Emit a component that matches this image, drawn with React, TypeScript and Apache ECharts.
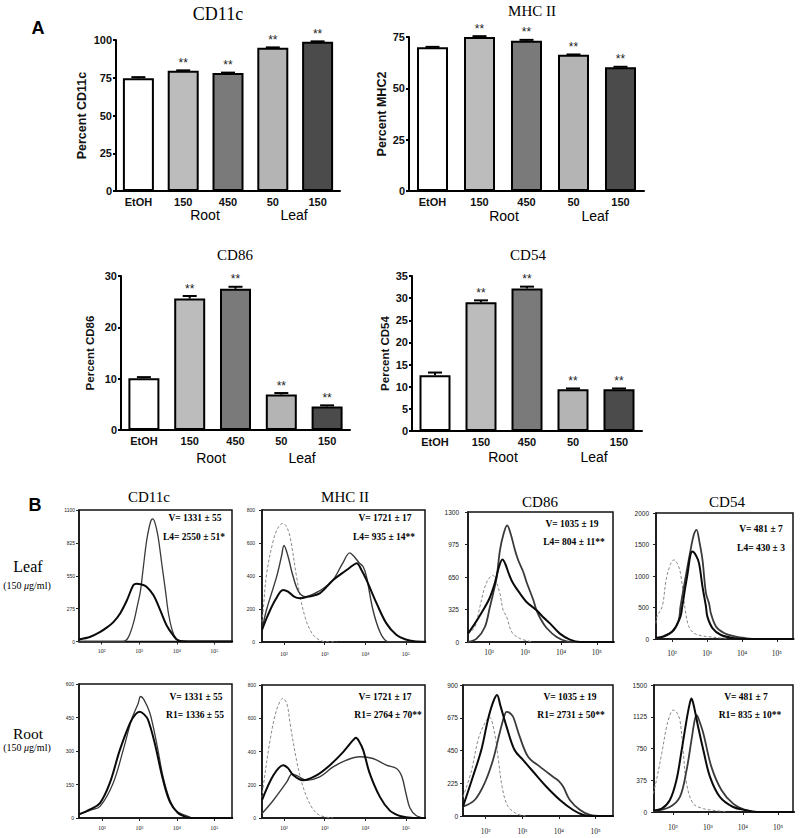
import React, { useEffect, useRef } from 'react';
import * as echarts from 'echarts';

// ---------- Panel A data ----------
const barCategories = ['EtOH', '150', '450', '50', '150'];
const barFills = ['#ffffff', '#bcbcbc', '#7a7a7a', '#b4b4b4', '#4b4b4b'];
const sigMarks = ['', '**', '**', '**', '**'];
const cd11cPercent = [74.6, 79.6, 78.1, 94.8, 98.8];
const cd11cErr = [0.8, 0.3, 0.3, 0.3, 0.3];
const mhc2Percent = [70.0, 75.0, 73.2, 66.3, 60.3];
const mhc2Err = [0.2, 0.4, 0.4, 0.2, 0.2];
const cd86Percent = [10.1, 25.6, 27.5, 6.9, 4.6];
const cd86Err = [0.2, 0.5, 0.4, 0.3, 0.2];
const cd54Percent = [12.6, 29.1, 32.2, 9.4, 9.4];
const cd54Err = [0.6, 0.4, 0.4, 0.2, 0.2];

// ---------- Panel B data: [log10 fluorescence, count] ----------
type P = [number, number];
const leafCd11cV: P[] = [[1.39, 17], [1.7, 40], [1.95, 78], [2.15, 120], [2.31, 162], [2.49, 235], [2.67, 344], [2.84, 470], [2.93, 484], [3.05, 478], [3.2, 456], [3.38, 386], [3.56, 260], [3.73, 134], [3.91, 50], [4.04, 8], [4.3, 0], [5.5, 0]];
const leafCd11cT: P[] = [[1.39, 0], [2.57, 0], [2.7, 30], [2.84, 150], [2.95, 300], [3.03, 420], [3.11, 626], [3.2, 850], [3.3, 1000], [3.36, 1025], [3.42, 990], [3.5, 880], [3.6, 650], [3.7, 420], [3.78, 230], [3.88, 90], [3.98, 25], [4.1, 5], [4.3, 0], [5.5, 0]];

const leafMhcIso: P[] = [[1.46, 120], [1.49, 194], [1.575, 416], [1.74, 618], [1.85, 690], [1.97, 719], [2.06, 700], [2.15, 638], [2.31, 396], [2.42, 250], [2.52, 150], [2.62, 85], [2.76, 32], [3.0, 2], [3.3, 0]];
const leafMhcV: P[] = [[1.46, 73], [1.6, 160], [1.8, 260], [1.98, 315], [2.1, 305], [2.25, 275], [2.39, 265], [2.6, 275], [2.88, 295], [3.21, 376], [3.54, 436], [3.7, 465], [3.79, 477], [3.9, 440], [4.03, 376], [4.28, 234], [4.52, 113], [4.77, 42], [5.0, 15], [5.2, 5], [5.5, 2]];
const leafMhcT: P[] = [[1.46, 73], [1.57, 194], [1.82, 396], [1.94, 520], [2.0, 585], [2.1, 520], [2.2, 420], [2.35, 310], [2.52, 275], [2.8, 300], [3.0, 330], [3.21, 376], [3.45, 480], [3.62, 540], [3.72, 520], [3.85, 480], [3.95, 456], [4.03, 396], [4.19, 194], [4.36, 62], [4.52, 6], [4.7, 0], [5.5, 0]];

const leafCd86Iso: P[] = [[1.41, 80], [1.6, 150], [1.74, 350], [1.88, 550], [2.0, 640], [2.1, 667], [2.2, 600], [2.3, 484], [2.39, 317], [2.49, 250], [2.63, 100], [2.86, 34], [3.23, 0]];
const leafCd86V: P[] = [[1.41, 84], [1.6, 184], [1.8, 300], [2.0, 430], [2.15, 580], [2.28, 760], [2.37, 824], [2.45, 780], [2.55, 680], [2.67, 584], [2.86, 484], [3.04, 400], [3.32, 317], [3.5, 250], [3.7, 184], [3.97, 84], [4.25, 24], [4.53, 0], [5.5, 0]];
const leafCd86T: P[] = [[1.41, 0], [1.65, 34], [1.88, 150], [2.02, 350], [2.12, 500], [2.21, 650], [2.3, 917], [2.4, 1080], [2.5, 1167], [2.6, 1080], [2.72, 917], [2.81, 817], [2.95, 700], [3.04, 600], [3.23, 420], [3.32, 317], [3.45, 220], [3.6, 140], [3.88, 50], [4.16, 7], [4.4, 0], [5.5, 0]];

const leafCd54Iso: P[] = [[1.54, 250], [1.57, 355], [1.72, 520], [1.83, 940], [1.95, 1180], [2.05, 1256], [2.15, 1200], [2.24, 1045], [2.34, 620], [2.39, 409], [2.48, 196], [2.63, 91], [2.87, 48], [3.06, 37], [3.3, 20], [3.6, 10]];
const leafCd54V: P[] = [[1.54, 20], [1.76, 37], [2.05, 143], [2.24, 355], [2.29, 513], [2.43, 990], [2.58, 1388], [2.68, 1330], [2.77, 1204], [2.87, 832], [2.97, 513], [3.01, 355], [3.16, 170], [3.4, 64], [3.79, 11], [4.1, 0], [5.5, 0]];
const leafCd54T: P[] = [[1.54, 11], [1.76, 48], [2.0, 116], [2.19, 302], [2.24, 513], [2.39, 990], [2.53, 1415], [2.62, 1650], [2.7, 1733], [2.78, 1550], [2.87, 1256], [2.97, 727], [3.06, 560], [3.11, 409], [3.26, 196], [3.5, 91], [3.79, 43], [4.08, 16], [4.46, 0], [5.5, 0]];

const rootCd11cV: P[] = [[1.39, 16], [1.7, 40], [1.95, 67], [2.21, 156], [2.48, 305], [2.75, 425], [2.9, 465], [3.01, 476], [3.12, 465], [3.23, 440], [3.41, 335], [3.63, 171], [3.81, 74], [4.03, 22], [4.26, 4], [4.5, 0], [5.5, 0]];
const rootCd11cT: P[] = [[1.39, 16], [1.7, 35], [1.95, 52], [2.3, 156], [2.57, 305], [2.79, 440], [2.97, 514], [3.03, 544], [3.12, 530], [3.28, 470], [3.46, 335], [3.63, 186], [3.81, 82], [3.99, 30], [4.26, 10], [4.43, 0], [5.5, 0]];

const rootMhcIso: P[] = [[1.46, 120], [1.49, 187], [1.66, 469], [1.82, 650], [1.98, 720], [2.08, 680], [2.15, 569], [2.31, 348], [2.47, 187], [2.68, 66], [2.88, 16], [3.21, 0]];
const rootMhcV: P[] = [[1.46, 107], [1.74, 257], [1.98, 318], [2.1, 300], [2.23, 257], [2.47, 227], [2.8, 257], [3.13, 318], [3.46, 398], [3.7, 468], [3.77, 482], [3.85, 460], [3.95, 408], [4.11, 268], [4.36, 127], [4.6, 46], [4.81, 16], [5.0, 5], [5.2, 0], [5.5, 0]];
const rootMhcT: P[] = [[1.46, 27], [1.74, 107], [2.07, 217], [2.2, 265], [2.35, 250], [2.56, 227], [2.88, 247], [3.21, 307], [3.54, 348], [3.87, 368], [4.19, 358], [4.52, 318], [4.77, 298], [4.9, 250], [5.0, 150], [5.1, 60], [5.25, 15], [5.45, 0]];

const rootCd86Iso: P[] = [[1.38, 130], [1.6, 300], [1.8, 530], [1.98, 640], [2.1, 680], [2.25, 560], [2.35, 380], [2.45, 200], [2.6, 70], [2.85, 15], [3.1, 0]];
const rootCd86V: P[] = [[1.38, 64], [1.65, 270], [1.88, 453], [2.06, 660], [2.2, 780], [2.31, 831], [2.4, 760], [2.57, 614], [2.79, 453], [3.02, 385], [3.3, 304], [3.66, 201], [4.03, 110], [4.39, 41], [4.67, 7], [4.9, 0], [5.5, 0]];
const rootCd86T: P[] = [[1.38, 64], [1.7, 110], [1.97, 225], [2.2, 385], [2.38, 568], [2.5, 680], [2.57, 716], [2.65, 710], [2.75, 682], [2.93, 545], [3.16, 407], [3.48, 339], [3.84, 270], [4.0, 240], [4.12, 201], [4.3, 110], [4.58, 41], [4.85, 7], [5.1, 0], [5.5, 0]];

const rootCd54Iso: P[] = [[1.44, 218], [1.53, 375], [1.68, 691], [1.82, 1006], [1.92, 1150], [2.01, 1204], [2.1, 1180], [2.2, 1086], [2.29, 730], [2.39, 336], [2.58, 99], [2.87, 40], [3.15, 20], [3.5, 5]];
const rootCd54V: P[] = [[1.44, 20], [1.68, 40], [1.91, 138], [2.1, 375], [2.25, 730], [2.39, 1086], [2.48, 1280], [2.53, 1340], [2.6, 1250], [2.72, 1006], [2.87, 730], [3.06, 414], [3.34, 178], [3.72, 59], [4.1, 20], [4.4, 0], [5.5, 0]];
const rootCd54T: P[] = [[1.44, 10], [1.91, 59], [2.2, 178], [2.39, 494], [2.53, 849], [2.62, 1080], [2.68, 1145], [2.75, 1080], [2.87, 928], [3.1, 533], [3.39, 257], [3.72, 99], [4.1, 20], [4.44, 0], [5.5, 0]];

const histYMax = [1100, 800, 1300, 2000, 600, 800, 900, 1500];
const histNotes = [
  ['V= 1331 ± 55', 'L4= 2550 ± 51*'],
  ['V= 1721 ± 17', 'L4= 935 ± 14**'],
  ['V= 1035 ± 19', 'L4= 804 ± 11**'],
  ['V= 481 ± 7', 'L4= 430 ± 3'],
  ['V= 1331 ± 55', 'R1= 1336 ± 55'],
  ['V= 1721 ± 17', 'R1= 2764 ± 70**'],
  ['V= 1035 ± 19', 'R1= 2731 ± 50**'],
  ['V= 481 ± 7', 'R1= 835 ± 10**'],
];
const markerNames = ['CD11c', 'MHC II', 'CD86', 'CD54'];

// ---------- layout ----------
const SANS = 'Liberation Sans';
const SERIF = 'Liberation Serif';

const barPanels = [
  { title: 'CD11c', yName: 'Percent CD11c', values: cd11cPercent, errs: cd11cErr, max: 100, interval: 25, grid: { left: 116, top: 40, width: 224, height: 151 }, nameGap: 28, nameSize: 12.5, titleXY: [218, 14], titleSize: 18, rootX: 205, leafX: 294, groupY: 215 },
  { title: 'MHC II', yName: 'Percent MHC2', values: mhc2Percent, errs: mhc2Err, max: 75, interval: 25, grid: { left: 409, top: 37, width: 235, height: 154 }, nameGap: 15, nameSize: 12.5, titleXY: [532, 11], titleSize: 15, rootX: 504, leafX: 595, groupY: 216 },
  { title: 'CD86', yName: 'Percent CD86', values: cd86Percent, errs: cd86Err, max: 30, interval: 10, grid: { left: 121, top: 276, width: 229, height: 154 }, nameGap: 25, nameSize: 11.5, titleXY: [235, 255], titleSize: 15, rootX: 211, leafX: 302, groupY: 457.5 },
  { title: 'CD54', yName: 'Percent CD54', values: cd54Percent, errs: cd54Err, max: 35, interval: 5, grid: { left: 412, top: 276, width: 230, height: 155 }, nameGap: 21, nameSize: 11.5, titleXY: [528, 255], titleSize: 15, rootX: 503, leafX: 594, groupY: 457 },
];

const histPanels = [
  { curves: [leafCd11cV, leafCd11cT], iso: null, grid: { left: 79, top: 510, width: 153, height: 131.5 }, xr: [1.395, 5.47], fs: 5, xGap: 6, yGap: 4, notes: [[195, 518], [194, 537]], thinW: 1.3 },
  { curves: [leafMhcV, leafMhcT], iso: leafMhcIso, grid: { left: 262, top: 510, width: 163, height: 132 }, xr: [1.46, 5.47], fs: 5, xGap: 9, yGap: 7, notes: [[385, 518], [384, 537]], thinW: 1.4 },
  { curves: [leafCd86V, leafCd86T], iso: leafCd86Iso, grid: { left: 468, top: 512, width: 145, height: 130 }, xr: [1.41, 5.45], fs: 6.5, xGap: 6, yGap: 9, notes: [[572, 524], [574, 542]], thinW: 1.8 },
  { curves: [leafCd54V, leafCd54T], iso: leafCd54Iso, grid: { left: 656, top: 513, width: 137, height: 126 }, xr: [1.54, 5.46], fs: 6.5, xGap: 10, yGap: 7, notes: [[761, 529], [761, 548]], thinW: 1.8 },
  { curves: [rootCd11cV, rootCd11cT], iso: null, grid: { left: 79, top: 684, width: 153, height: 134 }, xr: [1.39, 5.47], fs: 5, xGap: 7, yGap: 5, notes: [[196, 697], [195, 715]], thinW: 1.3 },
  { curves: [rootMhcV, rootMhcT], iso: rootMhcIso, grid: { left: 262, top: 685, width: 163, height: 133 }, xr: [1.46, 5.47], fs: 5, xGap: 7, yGap: 6, notes: [[385, 697], [388, 715]], thinW: 1.4 },
  { curves: [rootCd86V, rootCd86T], iso: rootCd86Iso, grid: { left: 463, top: 685, width: 150, height: 131 }, xr: [1.38, 5.48], fs: 6.5, xGap: 11, yGap: 5, notes: [[570, 697], [571, 715]], thinW: 1.8 },
  { curves: [rootCd54V, rootCd54T], iso: rootCd54Iso, grid: { left: 654, top: 685, width: 139, height: 127 }, xr: [1.46, 5.43], fs: 6.5, xGap: 11, yGap: 7, notes: [[746, 697], [750, 715]], thinW: 1.8 },
];

const histTitleXY = [[149, 497], [345, 497], [540, 502], [727, 502]];
const SUP: Record<number, string> = { 2: '²', 3: '³', 4: '⁴', 5: '⁵' };

function txt(text: string, x: number, y: number, size: number, family: string, weight = 'normal', extra: any = {}) {
  return {
    type: 'text', x, y, silent: true,
    style: { text, fontSize: size, fontFamily: family, fontWeight: weight, fill: '#000', align: 'center', verticalAlign: 'middle', ...extra },
  };
}

function buildOption() {
  const grid: any[] = [];
  const xAxis: any[] = [];
  const yAxis: any[] = [];
  const series: any[] = [];
  const graphic: any[] = [];

  // ---- Panel A ----
  barPanels.forEach((bp, i) => {
    grid.push({ ...bp.grid, containLabel: false, outerBoundsMode: 'none' });
    xAxis.push({
      gridIndex: i, type: 'category', data: barCategories,
      axisLine: { lineStyle: { color: '#000', width: 2 } },
      axisTick: { show: false },
      axisLabel: { interval: 0, color: '#111', fontFamily: SANS, fontWeight: 'bold', fontSize: 11, margin: 5 },
    });
    yAxis.push({
      gridIndex: i, type: 'value', min: 0, max: bp.max, interval: bp.interval,
      axisLine: { show: true, lineStyle: { color: '#000', width: 2 } },
      axisTick: { show: true, length: 3, lineStyle: { color: '#000', width: 2 } },
      splitLine: { show: false },
      axisLabel: { color: '#111', fontFamily: SANS, fontWeight: 'bold', fontSize: 11, margin: 4, formatter: (v: number) => String(v) },
      name: bp.yName, nameLocation: 'middle', nameGap: bp.nameGap,
      nameTextStyle: { color: '#111', fontFamily: SANS, fontWeight: 'bold', fontSize: bp.nameSize },
    });
    series.push({
      type: 'bar', xAxisIndex: i, yAxisIndex: i, barWidth: 31,
      data: bp.values.map((v, j) => ({ value: v, itemStyle: { color: barFills[j] } })),
      itemStyle: { borderColor: '#000', borderWidth: 2 },
      silent: true,
    });
    series.push({
      type: 'custom', xAxisIndex: i, yAxisIndex: i, silent: true, z: 5,
      data: bp.values.map((v, j) => [j, v, bp.errs[j]]),
      renderItem: (params: any, api: any) => {
        const j = api.value(0), v = api.value(1), e = api.value(2);
        const base = api.coord([j, v]);
        const top = api.coord([j, v + e]);
        const half = 7;
        return {
          type: 'group',
          children: [
            { type: 'line', shape: { x1: base[0], y1: base[1], x2: top[0], y2: top[1] }, style: { stroke: '#000', lineWidth: 2 } },
            { type: 'line', shape: { x1: top[0] - half, y1: top[1], x2: top[0] + half, y2: top[1] }, style: { stroke: '#000', lineWidth: 2 } },
            { type: 'text', x: top[0], y: top[1] - 7.5, style: { text: sigMarks[params.dataIndex], fontSize: 12, fontFamily: SANS, fill: '#222', align: 'center', verticalAlign: 'middle' } },
          ],
        };
      },
    });
    graphic.push(txt(bp.title, bp.titleXY[0], bp.titleXY[1], bp.titleSize, SERIF));
    graphic.push(txt('Root', bp.rootX, bp.groupY, 14, SANS));
    graphic.push(txt('Leaf', bp.leafX, bp.groupY, 14, SANS));
  });

  // ---- Panel B ----
  histPanels.forEach((hp, k) => {
    const gi = barPanels.length + k;
    grid.push({ ...hp.grid, containLabel: false, outerBoundsMode: 'none', show: true, borderColor: '#111', borderWidth: 1.5, backgroundColor: 'transparent' });
    xAxis.push({
      gridIndex: gi, type: 'value', min: hp.xr[0], max: hp.xr[1], splitNumber: 4,
      axisLine: { show: true, lineStyle: { color: '#111', width: 1.5 } },
      axisTick: { show: true, length: 3, lineStyle: { color: '#222', width: 1 } },
      splitLine: { show: false },
      axisLabel: {
        showMinLabel: false, showMaxLabel: false, fontSize: hp.fs + 1, color: '#222', fontFamily: SERIF, margin: hp.xGap,
        formatter: (v: number) => {
          const r = Math.round(v);
          return Math.abs(v - r) < 1e-6 && SUP[r] ? '10' + SUP[r] : '';
        },
      },
    });
    const ymax = histYMax[k];
    yAxis.push({
      gridIndex: gi, type: 'value', min: 0, max: ymax, interval: ymax / 4,
      axisLine: { show: true, lineStyle: { color: '#111', width: 1.5 } },
      axisTick: { show: true, length: 3, lineStyle: { color: '#222', width: 1 } },
      splitLine: { show: false },
      axisLabel: { fontSize: hp.fs, color: '#222', fontFamily: SANS, margin: hp.yGap, formatter: (v: number) => String(v) },
    });
    if (hp.iso) {
      series.push({
        type: 'line', xAxisIndex: gi, yAxisIndex: gi, data: hp.iso, showSymbol: false, smooth: 0.35, silent: true, z: 2,
        lineStyle: { color: '#8a8a8a', width: 1, type: [3, 2] },
      });
    }
    series.push({
      type: 'line', xAxisIndex: gi, yAxisIndex: gi, data: hp.curves[1], showSymbol: false, smooth: 0.35, silent: true, z: 3,
      lineStyle: { color: '#3a3a3a', width: hp.thinW },
    });
    series.push({
      type: 'line', xAxisIndex: gi, yAxisIndex: gi, data: hp.curves[0], showSymbol: false, smooth: 0.35, silent: true, z: 4,
      lineStyle: { color: '#0a0a0a', width: 2 },
    });
    hp.notes.forEach((xy, n) => {
      graphic.push(txt(histNotes[k][n], xy[0], xy[1], 9.5, SERIF, 'bold'));
    });
  });

  markerNames.forEach((m, i) => graphic.push(txt(m, histTitleXY[i][0], histTitleXY[i][1], 15, SERIF)));

  graphic.push(txt('A', 38, 28, 18, SANS, 'bold'));
  graphic.push(txt('B', 35, 505, 18, SANS, 'bold'));
  graphic.push(txt('Leaf', 28, 566, 16, SERIF));
  graphic.push(txt('(150 {i|μ}g/ml)', 27, 585, 10, SERIF, 'normal', { rich: { i: { fontStyle: 'italic', fontSize: 10, fontFamily: SERIF } } }));
  graphic.push(txt('Root', 28, 733, 15.5, SERIF));
  graphic.push(txt('(150 {i|μ}g/ml)', 27, 747, 10, SERIF, 'normal', { rich: { i: { fontStyle: 'italic', fontSize: 10, fontFamily: SERIF } } }));

  return {
    animation: false,
    backgroundColor: '#ffffff',
    grid, xAxis, yAxis, series, graphic,
  };
}

export default function App() {
  const ref = useRef<HTMLDivElement>(null);
  useEffect(() => {
    document.body.style.margin = '0';
    const chart = echarts.init(ref.current!, null, { renderer: 'svg', width: 800, height: 838 });
    chart.setOption(buildOption() as any);
    return () => chart.dispose();
  }, []);
  return <div ref={ref} style={{ width: 800, height: 838 }} />;
}
